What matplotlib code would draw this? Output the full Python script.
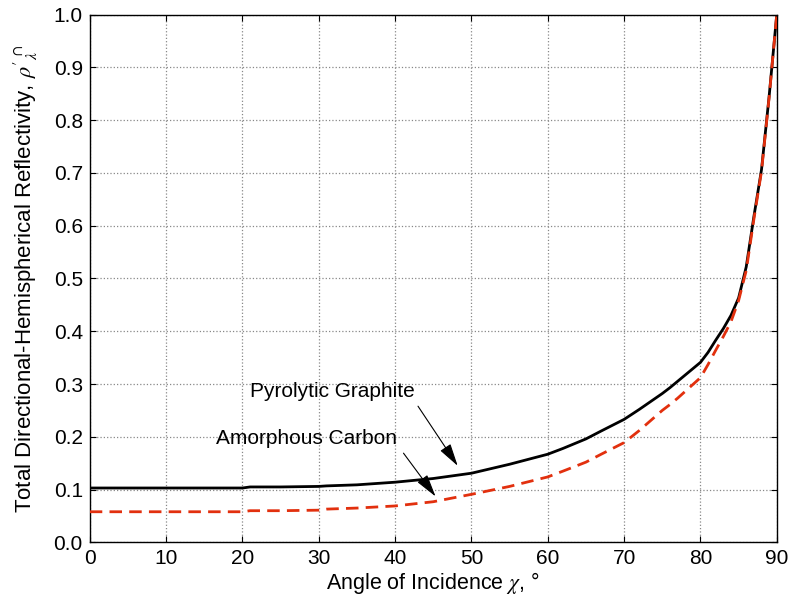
import matplotlib
matplotlib.use("Agg")
import matplotlib.pyplot as plt

plt.rcParams['font.family'] = ['Liberation Sans', 'DejaVu Sans']
plt.rcParams['mathtext.fontset'] = 'stix'

# Angle of incidence (degrees)
angle = [0, 5, 10, 15, 20, 21, 25, 30, 31, 35, 40, 45, 50, 55, 60, 62, 65, 67,
         70, 72, 75, 76, 77, 78, 79, 80, 81, 82, 83, 84, 85, 86, 87, 88, 89, 90]
# Total directional-hemispherical reflectivity
pyrolytic_graphite = [0.103, 0.103, 0.103, 0.103, 0.103, 0.105, 0.105, 0.106,
                      0.107, 0.109, 0.114, 0.121, 0.131, 0.148, 0.167, 0.178,
                      0.196, 0.211, 0.233, 0.252, 0.282, 0.293, 0.305, 0.317,
                      0.329, 0.341, 0.360, 0.383, 0.405, 0.430, 0.463, 0.522,
                      0.617, 0.706, 0.845, 1.0]
amorphous_carbon = [0.058, 0.058, 0.058, 0.058, 0.058, 0.060, 0.060, 0.061,
                    0.063, 0.065, 0.069, 0.077, 0.091, 0.106, 0.124, 0.135,
                    0.152, 0.167, 0.189, 0.212, 0.250, 0.261, 0.273, 0.286,
                    0.299, 0.312, 0.337, 0.364, 0.390, 0.418, 0.458, 0.515,
                    0.612, 0.703, 0.843, 1.0]

x_ticks = list(range(0, 91, 10))
y_ticks = [i / 10 for i in range(11)]

fig = plt.figure(figsize=(7.91, 6.06), dpi=100)
ax = fig.add_axes([0.1135, 0.105, 0.8685, 0.871])

ax.plot(angle, pyrolytic_graphite, color='black', lw=2.0, zorder=3)
ax.plot(angle, amorphous_carbon, color='#e2300e', lw=2.0, ls=(0, (4.5, 2.6)),
        zorder=4)

ax.set_xlim(0, 90)
ax.set_ylim(0, 1.0)
ax.set_xticks(x_ticks)
ax.set_yticks(y_ticks)
ax.set_yticklabels([f"{v:.1f}" for v in y_ticks])
ax.tick_params(direction='in', top=True, right=True, labelsize=15,
               length=4, width=0.8, pad=5)
ax.grid(True, color='#888888', ls=':', lw=0.9)
for s in ax.spines.values():
    s.set_linewidth(1.0)

ax.set_xlabel(r"Angle of Incidence $\chi$, °", fontsize=15.5, labelpad=1)
ax.set_ylabel(r"Total Directional-Hemispherical Reflectivity, $\rho'^{\,\cap}_{\lambda}$",
              fontsize=16, labelpad=10)

arrow = dict(arrowstyle='-|>,head_length=1.4,head_width=0.38', color='black',
             lw=0.8, shrinkA=0, shrinkB=0)
ax.text(21.0, 0.286, "Pyrolytic Graphite", fontsize=15, va='center', ha='left')
ax.annotate("", xy=(48.2, 0.145), xytext=(43.0, 0.258), arrowprops=arrow)
ax.text(16.5, 0.196, "Amorphous Carbon", fontsize=15, va='center', ha='left')
ax.annotate("", xy=(45.3, 0.087), xytext=(41.1, 0.169), arrowprops=arrow)

fig.savefig("out.png", dpi=100)
